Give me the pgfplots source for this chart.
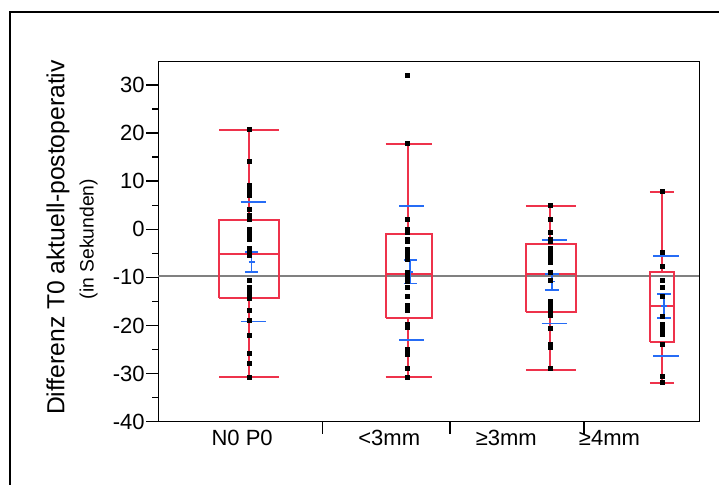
\documentclass[border=0pt]{standalone}
\usepackage{fontspec}
\setmainfont{Liberation Sans}
\usepackage{pgfplots}
\pgfplotsset{compat=1.18}
\definecolor{boxred}{RGB}{238,50,75}
\definecolor{meanblue}{RGB}{38,108,245}
\begin{document}
\begin{tikzpicture}
\useasboundingbox (0,0) rectangle (539.25pt,363.75pt);
\draw[line width=1pt] (7.5pt,0) -- (7.5pt,354.75pt) -- (539.25pt,354.75pt);
\begin{axis}[
  at={(118.7pt,47.5pt)}, anchor=south west,
  scale only axis, width=405.9pt, height=270pt,
  xmin=158.3, xmax=699.5, ymin=-40, ymax=34.84,
  axis line style={line width=1pt},
  ytick={-40,-30,-20,-10,0,10,20,30},
  yticklabels={-40,-30,-20,-10,0,10,20,30},
  minor y tick num=1,
  xtick pos=bottom, ytick pos=left, tick align=outside,
  major tick length=9pt, minor tick length=4.5pt,
  tick style={black, line width=1pt},
  tick label style={font=\fontsize{16.5}{19}\selectfont},
  yticklabel style={inner sep=1pt},
  xticklabel style={yshift=-3pt},
  xtick={322.7,450,584}, xticklabels={},
  extra x ticks={242.2,389.3,506.3,609.5},
  extra x tick labels={N0 P0,<3mm,≥3mm,≥4mm},
  extra x tick style={major tick length=0pt, tick style={draw=none}},
  clip=false,
]
% grand mean line
\addplot[gray, line width=1pt] coordinates {(158.3,-9.7) (699.5,-9.7)};
% boxes, medians, whiskers
\addplot[boxred, line width=1.5pt, unbounded coords=jump, line join=miter] coordinates {
(219.3,-14.2)(279.3,-14.2)(279.3,1.9)(219.3,1.9)(219.3,-14.2)(0,nan)
(219.3,-5.1)(279.3,-5.1)(0,nan)
(249.3,1.9)(249.3,20.6)(0,nan)
(219.3,20.6)(279.3,20.6)(0,nan)
(249.3,-14.2)(249.3,-30.8)(0,nan)
(219.3,-30.8)(279.3,-30.8)(0,nan)
(385.6,-18.4)(432.2,-18.4)(432.2,-0.9)(385.6,-0.9)(385.6,-18.4)(0,nan)
(385.6,-9.3)(432.2,-9.3)(0,nan)
(407.7,-0.9)(407.7,17.7)(0,nan)
(385.6,17.7)(432.2,17.7)(0,nan)
(407.7,-18.4)(407.7,-30.8)(0,nan)
(385.6,-30.8)(432.2,-30.8)(0,nan)
(525.8,-17.2)(575.8,-17.2)(575.8,-3.0)(525.8,-3.0)(525.8,-17.2)(0,nan)
(525.8,-9.3)(575.8,-9.3)(0,nan)
(550,-3.0)(550,4.8)(0,nan)
(525.8,4.8)(575.8,4.8)(0,nan)
(550,-17.2)(550,-29.2)(0,nan)
(525.8,-29.2)(575.8,-29.2)(0,nan)
(650,-23.4)(674.3,-23.4)(674.3,-8.9)(650,-8.9)(650,-23.4)(0,nan)
(650,-15.9)(674.3,-15.9)(0,nan)
(662.3,-8.9)(662.3,7.8)(0,nan)
(650,7.8)(674.3,7.8)(0,nan)
(662.3,-23.4)(662.3,-32.0)(0,nan)
(650,-32.0)(674.3,-32.0)
};
% points
\addplot[only marks, mark=square*, mark size=1.5pt, black] coordinates {
(249.3,20.7)(249.3,14.2)(249.3,9.1)(249.3,8.1)(249.3,7.6)(249.3,7.1)(249.3,4.1)(249.3,3.0)(249.3,2.5)(249.3,2.1)
(249.3,0.0)(249.3,-0.6)(249.3,-1.1)(249.3,-2.1)(249.3,-4.0)(249.3,-4.5)(249.3,-5.5)(249.3,-10.7)(249.3,-12.1)(249.3,-12.6)
(249.3,-13.1)(249.3,-14.0)(249.3,-14.4)(249.3,-16.9)(249.3,-19.0)(249.3,-22.0)(249.3,-25.7)(249.3,-27.8)(249.3,-30.7)
};
\addplot[only marks, mark=square*, mark size=1.5pt, black] coordinates {
(407.7,32.1)(407.7,17.8)(407.7,2.1)(407.7,0.1)(407.7,-0.3)(407.7,-0.7)(407.7,-2.1)(407.7,-2.6)(407.7,-4.1)(407.7,-4.7)
(407.7,-5.2)(407.7,-5.7)(407.7,-6.2)(407.7,-9.0)(407.7,-10.0)(407.7,-10.9)(407.7,-12.1)(407.7,-14.0)(407.7,-15.8)(407.7,-16.9)
(407.7,-19.7)(407.7,-20.4)(407.7,-24.9)(407.7,-25.4)(407.7,-25.9)(407.7,-29.0)(407.7,-30.7)
};
\addplot[only marks, mark=square*, mark size=1.5pt, black] coordinates {
(550,5.0)(550,2.1)(550,-0.7)(550,-2.1)(550,-2.6)(550,-4.0)(550,-4.5)(550,-5.0)(550,-5.5)(550,-6.1)
(550,-6.9)(550,-9.0)(550,-10.7)(550,-14.9)(550,-15.4)(550,-15.9)(550,-16.7)(550,-17.3)(550,-17.8)(550,-20.6)
(550,-23.9)(550,-24.5)(550,-29.0)
};
\addplot[only marks, mark=square*, mark size=1.5pt, black] coordinates {
(662.3,7.9)(662.3,-4.8)(662.3,-7.7)(662.3,-10.7)(662.3,-12.0)(662.3,-14.0)(662.3,-18.0)(662.3,-19.8)(662.3,-20.4)
(662.3,-20.9)(662.3,-21.9)(662.3,-24.0)(662.3,-30.6)(662.3,-31.8)
};
% means, standard deviations and confidence intervals
\addplot[meanblue, line width=1.2pt, unbounded coords=jump] coordinates {
(240.7,5.7)(266,5.7)(0,nan)
(240.7,-19.2)(266,-19.2)(0,nan)
(245,-4.7)(258.3,-4.7)(0,nan)
(245,-8.9)(258.3,-8.9)(0,nan)
(248.7,-6.8)(254.7,-6.8)(0,nan)
(251.7,-4.7)(251.7,-8.9)(0,nan)
(399.3,4.8)(424.3,4.8)(0,nan)
(399.3,-23.0)(424.3,-23.0)(0,nan)
(404,-6.4)(416.7,-6.4)(0,nan)
(404,-11.3)(416.7,-11.3)(0,nan)
(407.3,-8.9)(413.3,-8.9)(0,nan)
(410.3,-6.4)(410.3,-11.3)(0,nan)
(541.7,-2.2)(566.7,-2.2)(0,nan)
(541.7,-19.6)(566.7,-19.6)(0,nan)
(545,-9.3)(559,-9.3)(0,nan)
(545,-12.6)(559,-12.6)(0,nan)
(549,-10.9)(555,-10.9)(0,nan)
(552,-9.3)(552,-12.6)(0,nan)
(653.3,-5.5)(678.7,-5.5)(0,nan)
(653.3,-26.3)(678.7,-26.3)(0,nan)
(657.3,-13.5)(670.7,-13.5)(0,nan)
(657.3,-18.4)(670.7,-18.4)(0,nan)
(661,-15.9)(667,-15.9)(0,nan)
(664,-13.5)(664,-18.4)
};
\end{axis}
\node[rotate=90, font=\fontsize{18.5}{21}\selectfont] at (43.5pt,185.6pt) {Differenz T0 aktuell-postoperativ};
\node[rotate=90, font=\fontsize{14.5}{16}\selectfont] at (66.5pt,184.5pt) {(in Sekunden)};
\end{tikzpicture}
\end{document}
